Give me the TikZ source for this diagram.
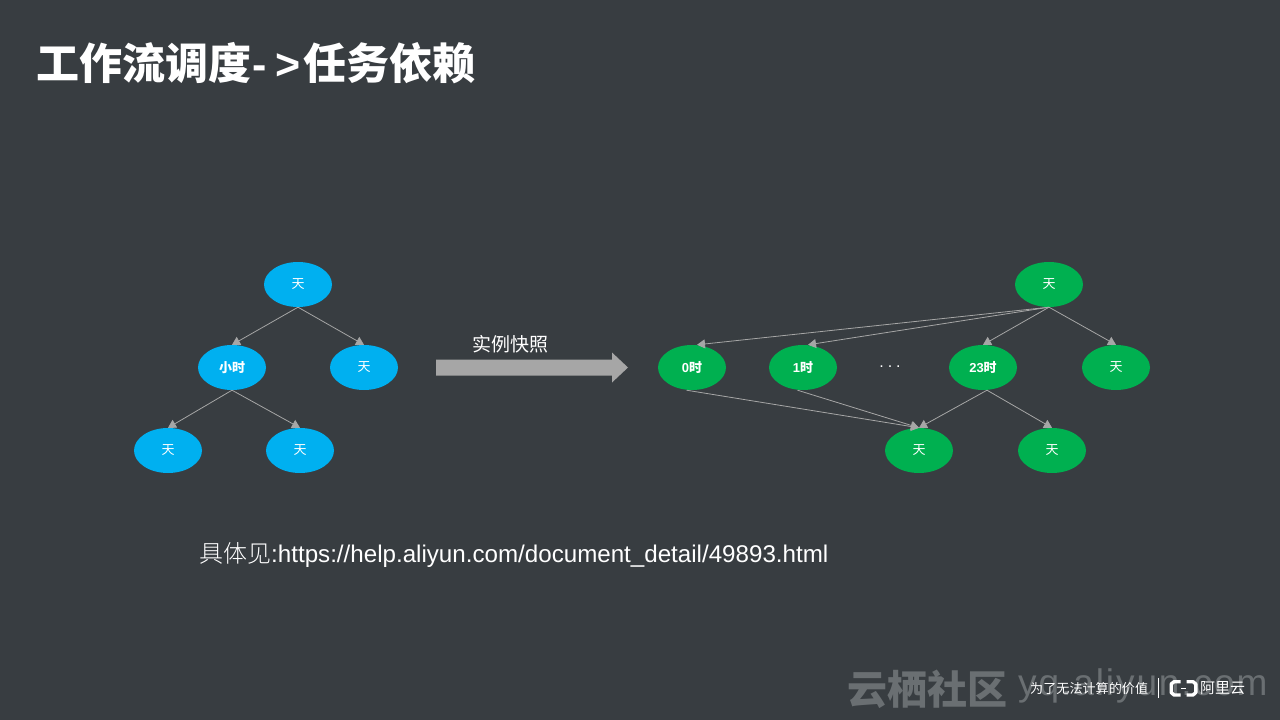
\documentclass[tikz,border=0pt]{standalone}
\usepackage{fontspec}
\usetikzlibrary{arrows.meta,shapes.geometric}
\setmainfont{Liberation Sans}
\newfontfamily\cjk{Noto Sans CJK SC}
\newfontfamily\cjklight{Noto Sans CJK SC Light}
\newfontfamily\wmlatin[LetterSpace=5.2]{Liberation Sans}
\definecolor{bgc}{HTML}{383D41}
\definecolor{bluec}{HTML}{00B0F0}
\definecolor{greenc}{HTML}{00B050}
\definecolor{linec}{HTML}{A6A6A6}
\definecolor{wmc}{HTML}{6A6F72}
\tikzset{
  blob/.style={ellipse,minimum width=68pt,minimum height=45pt,inner sep=0pt,text=white,font=\cjk\fontsize{13}{13}\selectfont},
  blueblob/.style={blob,fill=bluec},
  greenblob/.style={blob,fill=greenc},
  boldlabel/.style={font=\cjk\bfseries\fontsize{13}{13}\selectfont},
  dep/.style={draw=linec,line width=0.8pt,-{Triangle[length=8pt,width=9pt,fill=linec]}},
  txt/.style={inner sep=0pt,text=white,anchor=west},
}
\begin{document}
\begin{tikzpicture}[x=1pt,y=-1pt]
\path[use as bounding box,fill=bgc] (0,0) rectangle (1280,720);
% title
\node[txt,font=\cjk\bfseries\fontsize{43}{43}\selectfont] (title) at (36.5,63) {工作流调度\hspace{1pt}{\rmfamily\bfseries -\hspace{8.5pt}>}\hspace{2.5pt}任务依赖};
% left tree
\node[blueblob] (l0) at (298,284.5) {\raisebox{-0.5pt}{天}};
\node[blueblob,boldlabel] (l1) at (232,367.5) {\raisebox{-0.5pt}{小时}};
\node[blueblob] (l2) at (364,367.5) {\raisebox{-0.5pt}{天}};
\node[blueblob] (l3) at (168,450.5) {\raisebox{-0.5pt}{天}};
\node[blueblob] (l4) at (300,450.5) {\raisebox{-0.5pt}{天}};
\draw[dep] (l0.south) -- (l1.north);
\draw[dep] (l0.south) -- (l2.north);
\draw[dep] (l1.south) -- (l3.north);
\draw[dep] (l1.south) -- (l4.north);
% big arrow
\fill[linec] (436,359.5) -- (612,359.5) -- (612,352.5) -- (628,367.5) -- (612,382.5) -- (612,375.5) -- (436,375.5) -- cycle;
\node[inner sep=0pt,text=white,font=\cjk\fontsize{19}{19}\selectfont] (snap) at (510,344) {实例快照};
% right tree
\node[greenblob] (r0) at (1049,284.5) {\raisebox{-0.5pt}{天}};
\node[greenblob,boldlabel] (r1) at (692,367.5) {\raisebox{-0.5pt}{{\rmfamily\bfseries 0}时}};
\node[greenblob,boldlabel] (r2) at (803,367.5) {\raisebox{-0.5pt}{{\rmfamily\bfseries 1}时}};
\node[greenblob,boldlabel] (r3) at (983,367.5) {\raisebox{-0.5pt}{{\rmfamily\bfseries 23}时}};
\node[greenblob] (r4) at (1116,367.5) {\raisebox{-0.5pt}{天}};
\node[greenblob] (r5) at (919,450.5) {\raisebox{-0.5pt}{天}};
\node[greenblob] (r6) at (1052,450.5) {\raisebox{-0.5pt}{天}};
\node[inner sep=0pt,text=white,font=\fontsize{16}{16}\selectfont] (dots) at (890,367) {.\hspace{3.9pt}.\hspace{3.9pt}.};
\draw[dep] (r0.south) -- ([xshift=5pt]r1.north);
\draw[dep] (r0.south) -- ([xshift=5pt]r2.north);
\draw[dep] (r0.south) -- (r3.north);
\draw[dep] (r0.south) -- (r4.north);
\draw[dep] ([xshift=-5.5pt]r1.south) -- (r5.north);
\draw[dep] ([xshift=-5.5pt]r2.south) -- (r5.north);
\draw[dep] ([xshift=4pt]r3.south) -- (r5.north);
\draw[dep] ([xshift=4pt]r3.south) -- (r6.north);
% link text
\node[txt,font=\fontsize{24.15}{24}\selectfont] (link) at (199,555) {{\cjklight\fontsize{24}{24}\selectfont 具体见}:https://help.aliyun.com/document\_detail/49893.html};
% watermark
\node[txt,text=wmc,font=\cjk\bfseries\fontsize{40}{40}\selectfont] (wm1) at (847,689) {云栖社区};
\node[inner sep=0pt,anchor=base west,text=wmc,font=\wmlatin\fontsize{37}{37}\selectfont] (wm2) at (1018,695) {yq.aliyun.com};
% footer
\node[txt,font=\cjk\fontsize{13.1}{13}\selectfont] (slogan) at (1030,689) {为了无法计算的价值};
\draw[white,line width=0.8pt] (1158.5,678) -- (1158.5,698);
\draw[white,line width=3.4pt,line join=round] (1180.5,681.7) -- (1174,681.7) -- (1171.2,684) -- (1171.2,692.5) -- (1174,695) -- (1180.5,695);
\draw[white,line width=3.4pt,line join=round] (1186.5,681.7) -- (1193,681.7) -- (1195.8,684) -- (1195.8,692.5) -- (1193,695) -- (1186.5,695);
\draw[white,line width=0.9pt] (1181,688.5) -- (1186,688.5);
\node[txt,font=\cjk\fontsize{15}{15}\selectfont] (ali) at (1200,688) {阿里云};
\end{tikzpicture}
\end{document}
